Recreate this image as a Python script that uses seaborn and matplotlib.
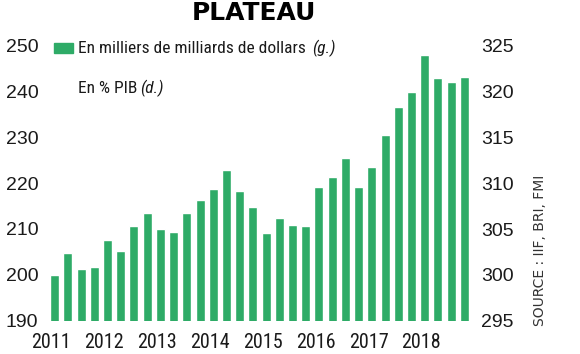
import matplotlib
matplotlib.use("Agg")
import matplotlib.pyplot as plt
import seaborn as sns
import pandas as pd
from matplotlib.patches import Rectangle

# ---- data ----
quarters = [f"{y}T{q}" for y in range(2011, 2019) for q in range(1, 5)]
debt_trillions = [200.0, 204.7, 201.3, 201.6, 207.6, 205.2, 210.7, 213.6,
                  210.1, 209.3, 213.5, 216.4, 218.7, 222.9, 218.2, 214.7,
                  209.1, 212.5, 210.9, 210.7, 219.1, 221.4, 225.6, 219.1,
                  223.5, 230.5, 236.6, 240.0, 248.1, 243.0, 242.2, 243.2]
year_labels = ["2011", "2012", "2013", "2014", "2015", "2016", "2017", "2018"]
left_ticks = [190, 200, 210, 220, 230, 240, 250]
right_ticks = [295, 300, 305, 310, 315, 320, 325]

title = "PLATEAU"
legend1 = "En milliers de milliards de dollars"
legend1_it = "(g.)"
legend2 = "En % PIB"
legend2_it = "(d.)"
source = "SOURCE : IIF, BRI, FMI"

GREEN = "#2EAB67"
COND = "Roboto Condensed"
df = pd.DataFrame({"quarter": quarters, "value": debt_trillions})

sns.set_theme(style="white")
plt.rcParams["font.family"] = ["Liberation Sans", "DejaVu Sans"]

W, H = 580, 354
fig = plt.figure(figsize=(W / 100, H / 100), dpi=100)
ax = fig.add_axes([48 / W, 33.5 / H, 423 / W, (320.5 - 46) / H])

sns.barplot(data=df, x="quarter", y="value", color=GREEN, width=0.68,
            saturation=1, ax=ax)
ax.set_ylim(190, 250)
ax.set_xlim(-0.5, 31.5)
ax.set_xlabel("")
ax.set_ylabel("")
ax.set_yticks(left_ticks)
ax.set_yticklabels([str(t) for t in left_ticks], fontsize=14)
ax.set_xticks([4 * i - 0.25 for i in range(len(year_labels))])
ax.set_xticklabels(year_labels, fontsize=14.5, family=COND)
ax.tick_params(axis="y", length=0, pad=7, colors="#1a1a1a")
ax.tick_params(axis="x", length=0, pad=9, colors="#1a1a1a")
for s in ax.spines.values():
    s.set_visible(False)

ax2 = ax.twinx()
ax2.set_ylim(295, 325)
ax2.set_yticks(right_ticks)
ax2.set_yticklabels([str(t) for t in right_ticks], fontsize=14)
ax2.tick_params(axis="y", length=0, pad=7, colors="#1a1a1a")
for s in ax2.spines.values():
    s.set_visible(False)
ax2.grid(False)
ax.grid(False)

# title
fig.text(254 / W, 1 - 13 / H, title, ha="center", va="center",
         fontsize=18, fontweight="bold", family="DejaVu Sans", color="black")

# legend (manual)
fig.patches.append(Rectangle((54 / W, 1 - 53 / H), 19 / W, 10 / H,
                             transform=fig.transFigure, color=GREEN))
fig.canvas.draw()
r = fig.canvas.get_renderer()
t1 = fig.text(78 / W, 1 - 53 / H, legend1, fontsize=12.5,
              family=COND, va="baseline", color="#1a1a1a")
bb = t1.get_window_extent(r)
fig.text((bb.x1 + 6) / W, 1 - 53 / H, legend1_it, fontsize=12.5, style="italic",
         family=COND, va="baseline", color="#1a1a1a")
t2 = fig.text(78 / W, 1 - 93 / H, legend2, fontsize=12.5,
              family=COND, va="baseline", color="#1a1a1a")
bb2 = t2.get_window_extent(r)
fig.text((bb2.x1 + 3) / W, 1 - 93 / H, legend2_it, fontsize=12.5, style="italic",
         family=COND, va="baseline", color="#1a1a1a")

# source
fig.text(540 / W, 1 - 250 / H, source, rotation=90, ha="center", va="center",
         fontsize=10, family="DejaVu Sans", color="#333333")

fig.savefig("out.png", dpi=100, facecolor="white")
